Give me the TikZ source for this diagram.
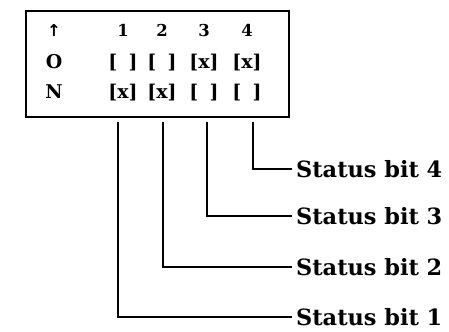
\documentclass[tikz,border=0pt]{standalone}
\usepackage{fontspec}
\setmainfont{DejaVu Serif}
\newfontfamily\arrowfont{DejaVu Sans}
\usepackage{tikz}
\tikzset{
  cell/.style={anchor=base,inner sep=0pt,font=\fontsize{19}{22}\selectfont\bfseries},
  digit/.style={cell,font=\fontsize{16.5}{19}\selectfont\bfseries},
  bitlabel/.style={anchor=west,inner sep=4bp,font=\fontsize{22.5}{26}\selectfont\bfseries},
  leader/.style={line width=1.9bp},
}
\begin{document}
\begin{tikzpicture}[x=1bp,y=-1bp]
\path[use as bounding box] (0,0) rectangle (449,331);
% switch panel
\node[draw,line width=2.4bp,minimum width=263bp,minimum height=106bp,anchor=north west,inner sep=0pt] (panel) at (25,9.5) {};
\node[digit] (arrow) at (54,36) {\arrowfont ↑};
\node[cell] (rowO) at (54,68) {O};
\node[cell] (rowN) at (54,98) {N};
\foreach \i/\x/\o/\n in {1/123/{[\phantom{x}]}/{[x]},2/162/{[\phantom{x}]}/{[x]},3/204/{[x]}/{[\phantom{x}]},4/247/{[x]}/{[\phantom{x}]}} {
  \node[digit] (num\i) at (\x,36) {\i};
  \node[cell] (on\i) at (\x,68) {\o};
  \node[cell] (off\i) at (\x,98) {\n};
}
% leaders
\foreach \i/\x/\y in {1/118/317,2/163/267,3/207/216,4/253/169} {
  \coordinate (top\i) at (\x,122);
  \node[bitlabel] (bit\i) at (292,\y) {Status bit \i};
  \draw[leader] (top\i) |- (bit\i.west);
}
\end{tikzpicture}
\end{document}
